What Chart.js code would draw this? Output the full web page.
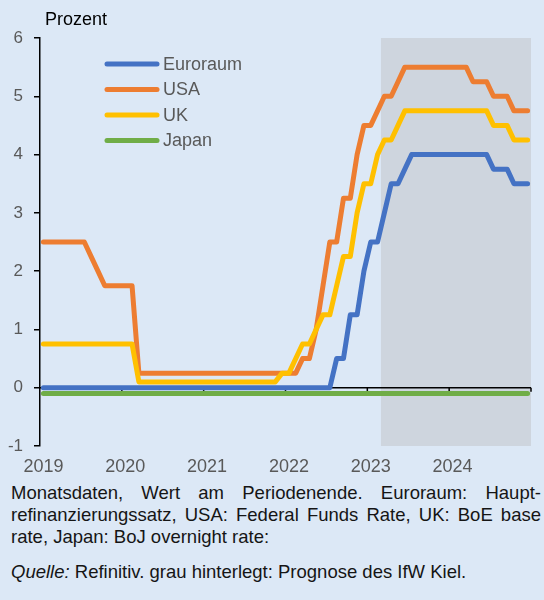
<!DOCTYPE html>
<html>
<head>
<meta charset="utf-8">
<script src="https://cdn.jsdelivr.net/npm/chart.js@4"></script>
<style>
  html, body { margin: 0; padding: 0; background: #dce8f6; }
  body { width: 544px; height: 600px; overflow: hidden; font-family: Arial, "Liberation Sans", sans-serif; }
  #wrap { position: relative; width: 544px; height: 480px; }
  .note { position: absolute; left: 11px; top: 482px; width: 530px; font-size: 18.5px; line-height: 22px; color: #151515; }
  .just { text-align: justify; text-align-last: justify; }
  .src { margin-top: 13px; }
</style>
</head>
<body>
<div id="wrap"><canvas id="rates" width="544" height="480"></canvas></div>
<div class="note">
  <div class="just">Monatsdaten, Wert am Periodenende. Euroraum: Haupt-</div>
  <div class="just">refinanzierungssatz, USA: Federal Funds Rate, UK: BoE base</div>
  <div>rate, Japan: BoJ overnight rate:</div>
  <div class="src"><i>Quelle:</i> Refinitiv. grau hinterlegt: Prognose des IfW Kiel.</div>
</div>
<script>
// years on the axis, one category per month
const years = ['2019', '2020', '2021', '2022', '2023', '2024'];
const months = [];
years.forEach(function(y) {
    for (let m = 1; m <= 12; m++) months.push(y + '-' + String(m).padStart(2, '0'));
});

// Leitzinsen in Prozent, Monatsende
const euroraum = [
    0, 0, 0, 0, 0, 0, 0, 0, 0, 0, 0, 0,                         // 2019
    0, 0, 0, 0, 0, 0, 0, 0, 0, 0, 0, 0,                         // 2020
    0, 0, 0, 0, 0, 0, 0, 0, 0, 0, 0, 0,                         // 2021
    0, 0, 0, 0, 0, 0, 0, 0.5, 0.5, 1.25, 1.25, 2.0,             // 2022
    2.5, 2.5, 3.0, 3.5, 3.5, 3.75, 4.0, 4.0, 4.0, 4.0, 4.0, 4.0, // 2023
    4.0, 4.0, 4.0, 4.0, 4.0, 4.0, 3.75, 3.75, 3.75, 3.5, 3.5, 3.5 // 2024
];
const usa = [
    2.5, 2.5, 2.5, 2.5, 2.5, 2.5, 2.5, 2.25, 2.0, 1.75, 1.75, 1.75,
    1.75, 1.75, 0.25, 0.25, 0.25, 0.25, 0.25, 0.25, 0.25, 0.25, 0.25, 0.25,
    0.25, 0.25, 0.25, 0.25, 0.25, 0.25, 0.25, 0.25, 0.25, 0.25, 0.25, 0.25,
    0.25, 0.25, 0.5, 0.5, 1.0, 1.75, 2.5, 2.5, 3.25, 3.25, 4.0, 4.5,
    4.5, 4.75, 5.0, 5.0, 5.25, 5.5, 5.5, 5.5, 5.5, 5.5, 5.5, 5.5,
    5.5, 5.5, 5.5, 5.25, 5.25, 5.25, 5.0, 5.0, 5.0, 4.75, 4.75, 4.75
];
const uk = [
    0.75, 0.75, 0.75, 0.75, 0.75, 0.75, 0.75, 0.75, 0.75, 0.75, 0.75, 0.75,
    0.75, 0.75, 0.1, 0.1, 0.1, 0.1, 0.1, 0.1, 0.1, 0.1, 0.1, 0.1,
    0.1, 0.1, 0.1, 0.1, 0.1, 0.1, 0.1, 0.1, 0.1, 0.1, 0.1, 0.25,
    0.25, 0.5, 0.75, 0.75, 1.0, 1.25, 1.25, 1.75, 2.25, 2.25, 3.0, 3.5,
    3.5, 4.0, 4.25, 4.25, 4.5, 4.75, 4.75, 4.75, 4.75, 4.75, 4.75, 4.75,
    4.75, 4.75, 4.75, 4.75, 4.75, 4.75, 4.5, 4.5, 4.5, 4.25, 4.25, 4.25
];
const japan = [
    -0.1, -0.1, -0.1, -0.1, -0.1, -0.1, -0.1, -0.1, -0.1, -0.1, -0.1, -0.1,
    -0.1, -0.1, -0.1, -0.1, -0.1, -0.1, -0.1, -0.1, -0.1, -0.1, -0.1, -0.1,
    -0.1, -0.1, -0.1, -0.1, -0.1, -0.1, -0.1, -0.1, -0.1, -0.1, -0.1, -0.1,
    -0.1, -0.1, -0.1, -0.1, -0.1, -0.1, -0.1, -0.1, -0.1, -0.1, -0.1, -0.1,
    -0.1, -0.1, -0.1, -0.1, -0.1, -0.1, -0.1, -0.1, -0.1, -0.1, -0.1, -0.1,
    -0.1, -0.1, -0.1, -0.1, -0.1, -0.1, -0.1, -0.1, -0.1, -0.1, -0.1, -0.1
];
const yTicks = [-1, 0, 1, 2, 3, 4, 5, 6];

// Prognosezeitraum (grau hinterlegt) beginnt im März 2023
const forecastFrom = '2023-03';

const series = [
    { label: 'Euroraum', data: euroraum, color: '#4472c4' },
    { label: 'USA', data: usa, color: '#ed7d31' },
    { label: 'UK', data: uk, color: '#ffc000' },
    { label: 'Japan', data: japan, color: '#70ad47' }
];

Chart.defaults.font.family = 'Arial, "Liberation Sans", sans-serif';

const decor = {
    id: 'decor',
    beforeDatasetsDraw: function(chart) {
        const ctx = chart.ctx;
        const a = chart.chartArea;
        const x = chart.scales.x;
        const y = chart.scales.y;
        ctx.save();
        // shaded forecast period
        const x0 = x.getPixelForValue(months.indexOf(forecastFrom) - 0.5);
        ctx.fillStyle = '#ced5de';
        ctx.fillRect(x0, a.top, a.right - x0, a.bottom - a.top);
        // horizontal axis line at zero with year ticks
        const y0 = y.getPixelForValue(0);
        ctx.strokeStyle = '#000';
        ctx.lineWidth = 1.5;
        ctx.beginPath();
        ctx.moveTo(a.left, y0);
        ctx.lineTo(a.right, y0);
        for (let i = 12; i <= months.length; i += 12) {
            const px = x.getPixelForValue(i - 0.5);
            ctx.moveTo(px, y0);
            ctx.lineTo(px, y0 + 4);
        }
        ctx.stroke();
        ctx.restore();
    },
    afterDatasetsDraw: function(chart) {
        const ctx = chart.ctx;
        ctx.save();
        // unit label
        ctx.fillStyle = '#000';
        ctx.font = '18px Arial, "Liberation Sans", sans-serif';
        ctx.textBaseline = 'alphabetic';
        ctx.fillText('Prozent', 45, 25);
        // legend
        ctx.lineCap = 'round';
        ctx.lineWidth = 5;
        ctx.textBaseline = 'middle';
        series.forEach(function(s, i) {
            const ly = 64 + i * 25.5;
            ctx.strokeStyle = s.color;
            ctx.beginPath();
            ctx.moveTo(107, ly);
            ctx.lineTo(157, ly);
            ctx.stroke();
            ctx.fillStyle = '#595959';
            ctx.fillText(s.label, 163, ly + 1);
        });
        ctx.restore();
    }
};

new Chart(document.getElementById('rates'), {
    type: 'line',
    data: {
        labels: months,
        datasets: series.map(function(s, i) {
            return {
                label: s.label,
                data: s.data,
                borderColor: s.color,
                backgroundColor: s.color,
                order: series.length - i
            };
        })
    },
    options: {
        responsive: false,
        animation: false,
        layout: { padding: { left: 0, right: 13, top: 38, bottom: 0 } },
        elements: {
            point: { radius: 0 },
            line: { borderWidth: 5, borderJoinStyle: 'round', borderCapStyle: 'round', tension: 0 }
        },
        plugins: {
            legend: { display: false },
            tooltip: { enabled: false }
        },
        scales: {
            x: {
                offset: true,
                grid: { display: false, drawTicks: false },
                border: { display: false },
                ticks: {
                    autoSkip: false,
                    maxRotation: 0,
                    padding: 10,
                    color: '#595959',
                    font: { size: 18 },
                    callback: function(v, i) {
                        return i % 12 === 0 ? months[i].slice(0, 4) : '';
                    }
                },
                afterFit: function(s) { s.height = 34; }
            },
            y: {
                min: -1,
                max: 6,
                afterBuildTicks: function(s) { s.ticks = yTicks.map(function(v) { return { value: v }; }); },
                ticks: { padding: 11, color: '#595959', font: { size: 17 } },
                grid: { drawOnChartArea: false, tickLength: 6, color: '#000', lineWidth: 1.5 },
                border: { color: '#000', width: 1.5 },
                afterFit: function(s) { s.width = 40; }
            }
        }
    },
    plugins: [decor]
});
</script>
</body>
</html>
